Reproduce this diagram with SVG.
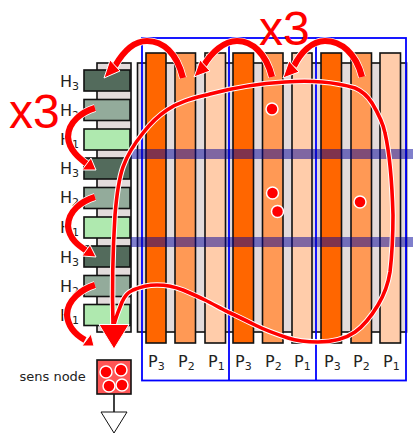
<svg xmlns="http://www.w3.org/2000/svg" width="413" height="433" viewBox="0 0 413 433">
<style>
.s{stroke:#111;stroke-width:1.6}
.t{font-family:"DejaVu Sans",sans-serif;font-size:16px;fill:#222}
.u{font-size:11px}
.p3{fill:#ff6600}.p2{fill:#ff9955}.p1{fill:#ffccaa}
.g{fill:#e3dbdb}
.h3{fill:#536b5c}.h2{fill:#93ab9b}.h1{fill:#afe9af}
.bl{fill:none;stroke:#0000ff;stroke-width:1.800}
.band{fill:#000099;fill-opacity:.5}
.wl{fill:none;stroke:#fff;stroke-width:5.600}
.rl{fill:none;stroke:#ff0000;stroke-width:3.600}
.wa{fill:none;stroke:#fff;stroke-width:7.600}
.ra{fill:none;stroke:#ff0000;stroke-width:6.200}
.ah{fill:#ff0000;stroke:#fff;stroke-width:1}
.x3{font-family:"Liberation Sans",Arial,sans-serif;font-size:48px;fill:#ff0000}
.dot{fill:#ff0000;stroke:#fff;stroke-width:1.500}
</style>
<defs>
<path id="loop" d="M113 325C112 290 112.500 255 115 215C116.500 197 119.500 177 123 167C126.500 157 135 143 143 133C150 124 158 116 167 110C180 101 195 98 210 94C225 90 250 84 285 82C300 81 310 81 322 82C335 83 345 85 355 88C362 91 367 95 372 103C378 113 383 123 385 133C390 155 392 180 393 215C393 235 392 255 390 272C388 285 384 295 378 305C372 315 365 325 355 332C345 339 330 342 318 342C305 342 297 341 288 338C276 334 265 330 255 325C245 320 237 316 228 312C220 308 213 304 205 300C197 296 190 293 183 290C173 286 165 285 157 285C148 285 140 287 133 290C127 293 125 296 122 302C119 310 116 316 114 325"/>
<path id="a1" d="M183 78C177 53 163 41 147 41C134 41 123 52 115 66"/>
<path id="a2" d="M272 77C266 53 252 41 237 41C224 41 212 52 204 65"/>
<path id="a3" d="M362 77C356 53 341 41 325 41C312 41 301 52 294 66"/>
<path id="b1" d="M95 108C82 112 68 122 68 137C69 150 79 158 87 164"/>
<path id="b2" d="M95 197C82 201 68 211 68 226C69 239 79 246 87 251"/>
<path id="b3" d="M95 285C82 289 67 300 67 315C68 327 76 335 85 340"/>
</defs>
<g id="backing">
<rect class="g s" x="97" y="63" width="34" height="269"/>
<rect class="g s" x="137.500" y="63" width="269" height="269"/>
</g>
<g id="p-bars">
<rect class="p3 s" x="146" y="53" width="20" height="290"/>
<rect class="p2 s" x="175" y="53" width="20.500" height="290"/>
<rect class="p1 s" x="205" y="53" width="20.500" height="290"/>
<rect class="p3 s" x="233" y="53" width="20.500" height="290"/>
<rect class="p2 s" x="262.500" y="53" width="20.500" height="290"/>
<rect class="p1 s" x="292" y="53" width="20" height="290"/>
<rect class="p3 s" x="321" y="53" width="20.500" height="290"/>
<rect class="p2 s" x="351" y="53" width="20.500" height="290"/>
<rect class="p1 s" x="380" y="53" width="20.500" height="290"/>
</g>
<g id="h-bars">
<rect class="h3 s" x="84" y="70" width="46" height="21"/>
<rect class="h2 s" x="84" y="99.500" width="46" height="21"/>
<rect class="h1 s" x="84" y="129" width="46" height="21"/>
<rect class="h3 s" x="84" y="158" width="46" height="21"/>
<rect class="h2 s" x="84" y="187.500" width="46" height="21"/>
<rect class="h1 s" x="84" y="217" width="46" height="21"/>
<rect class="h3 s" x="84" y="246" width="46" height="21"/>
<rect class="h2 s" x="84" y="275.500" width="46" height="21"/>
<rect class="h1 s" x="84" y="304.500" width="46" height="21"/>
</g>
<g id="groups">
<rect class="bl" x="142" y="38" width="264" height="342.500"/>
<path class="bl" d="M229 38V380.500M316 38V380.500"/>
</g>
<g id="bands">
<rect class="band" x="131" y="149" width="282" height="10"/>
<rect class="band" x="131" y="237" width="282" height="10"/>
</g>
<g id="h-labels" class="t">
<text x="60" y="87">H<tspan class="u" dy="3">3</tspan></text>
<text x="60" y="116">H<tspan class="u" dy="3">2</tspan></text>
<text x="60" y="145">H<tspan class="u" dy="3">1</tspan></text>
<text x="60" y="174">H<tspan class="u" dy="3">3</tspan></text>
<text x="60" y="203">H<tspan class="u" dy="3">2</tspan></text>
<text x="60" y="233">H<tspan class="u" dy="3">1</tspan></text>
<text x="60" y="263">H<tspan class="u" dy="3">3</tspan></text>
<text x="60" y="292">H<tspan class="u" dy="3">2</tspan></text>
<text x="60" y="321">H<tspan class="u" dy="3">1</tspan></text>
</g>
<g id="p-labels" class="t">
<text x="148" y="367">P<tspan class="u" dy="3">3</tspan></text>
<text x="178" y="367">P<tspan class="u" dy="3">2</tspan></text>
<text x="208" y="367">P<tspan class="u" dy="3">1</tspan></text>
<text x="235" y="367">P<tspan class="u" dy="3">3</tspan></text>
<text x="265" y="367">P<tspan class="u" dy="3">2</tspan></text>
<text x="294" y="367">P<tspan class="u" dy="3">1</tspan></text>
<text x="324" y="367">P<tspan class="u" dy="3">3</tspan></text>
<text x="353" y="367">P<tspan class="u" dy="3">2</tspan></text>
<text x="383" y="367">P<tspan class="u" dy="3">1</tspan></text>
</g>
<g id="dots">
<circle class="dot" cx="272" cy="109" r="6"/>
<circle class="dot" cx="272.500" cy="193" r="6"/>
<circle class="dot" cx="277.500" cy="211.500" r="6"/>
<circle class="dot" cx="360" cy="202" r="6"/>
</g>
<g id="connectors">
<use href="#loop" class="wl"/><use href="#loop" class="rl"/>
<use href="#a1" class="wa"/><use href="#a1" class="ra"/>
<polygon class="ah" points="104,78 120,71 110,60"/>
<use href="#a2" class="wa"/><use href="#a2" class="ra"/>
<polygon class="ah" points="194,77 210,71 200,60"/>
<use href="#a3" class="wa"/><use href="#a3" class="ra"/>
<polygon class="ah" points="283,78 299,72 289,61"/>
<use href="#b1" class="wa"/><use href="#b1" class="ra"/>
<polygon class="ah" points="96,170 91,158 82,170"/>
<use href="#b2" class="wa"/><use href="#b2" class="ra"/>
<polygon class="ah" points="96,257 90,245 82,256"/>
<use href="#b3" class="wa"/><use href="#b3" class="ra"/>
<polygon class="ah" points="94,346 91,334 82,346"/>
<polygon fill="#ff0000" stroke="#fff" stroke-width="1" points="99,324.500 129,324.500 114,349"/>
</g>
<g id="x3-labels">
<text class="x3" x="9" y="128">x3</text>
<text class="x3" x="259" y="45">x3</text>
</g>
<g id="sens-node">
<text x="19.500" y="381" font-family="'DejaVu Sans',sans-serif" font-size="13px" fill="#222">sens node</text>
<rect x="97" y="360" width="34" height="34" fill="#ff5555" stroke="#111" stroke-width="1.600"/>
<circle class="dot" cx="106" cy="372" r="6"/>
<circle class="dot" cx="121" cy="370" r="6"/>
<circle class="dot" cx="109" cy="386" r="6"/>
<circle class="dot" cx="122" cy="385" r="6"/>
<path d="M114 394V412" stroke="#111" stroke-width="1.600" fill="none"/>
<polygon points="101,412 127,412 114,433" fill="#fff" stroke="#111" stroke-width="1"/>
</g>
</svg>
